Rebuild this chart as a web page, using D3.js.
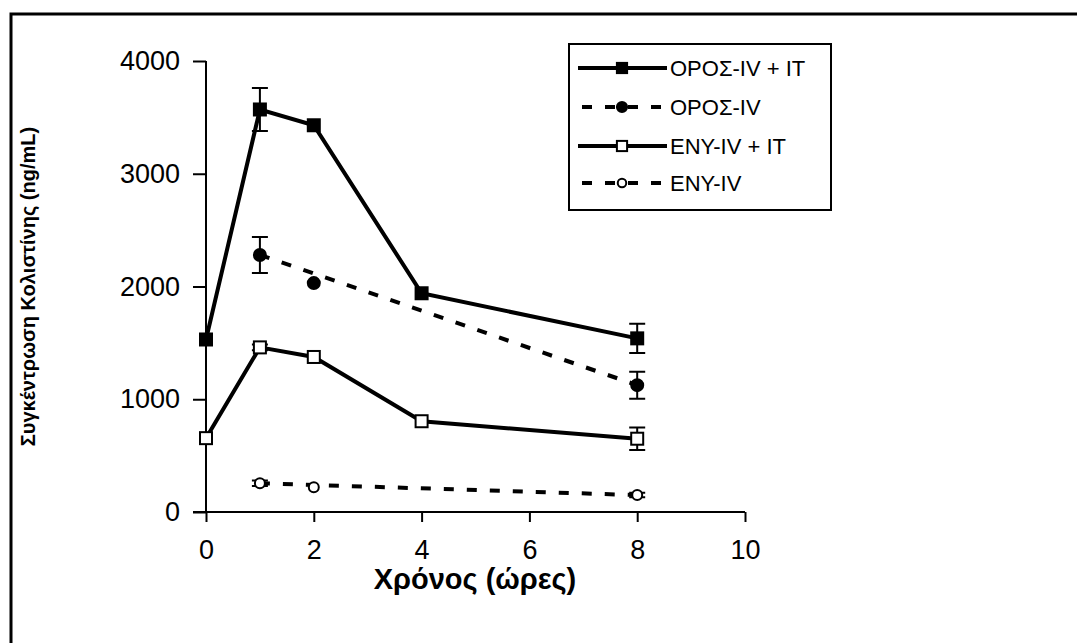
<!DOCTYPE html>
<html>
<head>
<meta charset="utf-8">
<script src="https://cdn.jsdelivr.net/npm/d3@7"></script>
<style>
  html, body { margin: 0; padding: 0; background: #fff; }
  svg text { font-family: "Liberation Sans", Arial, sans-serif; fill: #000; }
</style>
</head>
<body>
<svg id="chart" width="1077" height="643"></svg>
<script>
// Colistin concentration over time (hours), mean ± error
const xTicks = [0, 2, 4, 6, 8, 10];
const yTicks = [0, 1000, 2000, 3000, 4000];

const serumIvIt = [
  { t: 0, v: 1530, e: 0 },
  { t: 1, v: 3570, e: 190 },
  { t: 2, v: 3430, e: 0 },
  { t: 4, v: 1940, e: 0 },
  { t: 8, v: 1540, e: 130 }
];
const serumIv = [
  { t: 1, v: 2280, e: 160 },
  { t: 2, v: 2030, e: 0 },
  { t: 8, v: 1125, e: 120 }
];
const elfIvIt = [
  { t: 0, v: 655, e: 0 },
  { t: 1, v: 1460, e: 25 },
  { t: 2, v: 1375, e: 0 },
  { t: 4, v: 805, e: 0 },
  { t: 8, v: 650, e: 100 }
];
const elfIv = [
  { t: 1, v: 255, e: 25 },
  { t: 2, v: 220, e: 0 },
  { t: 8, v: 150, e: 20 }
];

const seriesNames = ["ΟΡΟΣ-IV + IT", "ΟΡΟΣ-IV", "ΕΝΥ-IV + IT", "ΕΝΥ-IV"];

const series = [
  { name: seriesNames[0], data: serumIvIt, dashed: false, marker: "square", filled: true, trend: false },
  { name: seriesNames[1], data: serumIv, dashed: true, marker: "circle", filled: true, trend: true },
  { name: seriesNames[2], data: elfIvIt, dashed: false, marker: "square", filled: false, trend: false },
  { name: seriesNames[3], data: elfIv, dashed: true, marker: "circle", filled: false, trend: true }
];

const svg = d3.select("#chart");

// outer frame
svg.append("rect")
  .attr("x", 11).attr("y", 14)
  .attr("width", 1100).attr("height", 700)
  .attr("fill", "none").attr("stroke", "#000").attr("stroke-width", 3);

const x = d3.scaleLinear().domain([0, 10]).range([206, 745]);
const y = d3.scaleLinear().domain([0, 4000]).range([512, 61]);

const tickFont = 27;

// y axis
const yAxis = svg.append("g").attr("transform", `translate(${x(0)},0)`)
  .call(d3.axisLeft(y).tickValues(yTicks).tickFormat(d3.format("d")).tickSize(13).tickPadding(13));
yAxis.select(".domain").attr("stroke-width", 2).attr("d", `M0,${y(4000)}V${y(0)}`);
yAxis.selectAll(".tick line").attr("stroke-width", 2);
yAxis.selectAll(".tick text").attr("font-size", tickFont).attr("font-family", "Liberation Sans, Arial, sans-serif").attr("fill", "#000");

// x axis
const xAxis = svg.append("g").attr("transform", `translate(0,${y(0)})`)
  .call(d3.axisBottom(x).tickValues(xTicks).tickFormat(d3.format("d")).tickSize(10).tickPadding(18));
xAxis.select(".domain").attr("stroke-width", 2).attr("d", `M193,0H${x(10)}`);
xAxis.selectAll(".tick line").attr("stroke-width", 2);
xAxis.selectAll(".tick text").attr("font-size", tickFont).attr("font-family", "Liberation Sans, Arial, sans-serif").attr("fill", "#000");

// axis titles
svg.append("text")
  .attr("x", 475).attr("y", 589)
  .attr("text-anchor", "middle")
  .attr("font-size", 29).attr("font-weight", "bold")
  .text("Χρόνος (ώρες)");
svg.append("text")
  .attr("transform", `translate(35,${y(2000)}) rotate(-90)`)
  .attr("text-anchor", "middle")
  .attr("font-size", 20).attr("font-weight", "bold")
  .text("Συγκέντρωση Κολιστίνης (ng/mL)");

const line = d3.line().x(d => x(d.t)).y(d => y(d.v));

function drawMarker(g, kind, filled, cx, cy, scale = 1) {
  if (kind === "square") {
    const h = 6 * scale;
    g.append("rect")
      .attr("x", cx - h).attr("y", cy - h).attr("width", 2 * h).attr("height", 2 * h)
      .attr("fill", filled ? "#000" : "#fff").attr("stroke", "#000").attr("stroke-width", 2);
  } else {
    g.append("circle")
      .attr("cx", cx).attr("cy", cy).attr("r", (filled ? 6 : 5) * scale)
      .attr("fill", filled ? "#000" : "#fff").attr("stroke", "#000").attr("stroke-width", 2);
  }
}

series.forEach(s => {
  const g = svg.append("g");
  // dashed series are drawn as a straight trend from first to last sample
  const pathData = s.trend ? [s.data[0], s.data[s.data.length - 1]] : s.data;
  g.append("path")
    .attr("d", line(pathData))
    .attr("fill", "none").attr("stroke", "#000")
    .attr("stroke-width", 4)
    .attr("stroke-dasharray", s.dashed ? "10,13" : null);
  // error bars
  s.data.filter(d => d.e > 0).forEach(d => {
    const cx = x(d.t);
    g.append("path")
      .attr("d", `M${cx},${y(d.v + d.e)}V${y(d.v - d.e)}M${cx - 8},${y(d.v + d.e)}H${cx + 8}M${cx - 8},${y(d.v - d.e)}H${cx + 8}`)
      .attr("stroke", "#000").attr("stroke-width", 2).attr("fill", "none");
  });
  s.data.forEach(d => drawMarker(g, s.marker, s.filled, x(d.t), y(d.v)));
});

// legend
const legend = svg.append("g");
legend.append("rect")
  .attr("x", 569).attr("y", 44).attr("width", 262).attr("height", 166)
  .attr("fill", "#fff").attr("stroke", "#000").attr("stroke-width", 2);
const rowY = [68, 107, 146, 183];
series.forEach((s, i) => {
  const ry = rowY[i];
  legend.append("path")
    .attr("d", `M578,${ry}H667`)
    .attr("stroke", "#000").attr("stroke-width", 4)
    .attr("stroke-dasharray", s.dashed ? "10,13" : null)
    .attr("stroke-dashoffset", s.dashed ? -4 : null);
  drawMarker(legend, s.marker, s.filled, 622, ry, 0.85);
  legend.append("text")
    .attr("x", 670).attr("y", ry).attr("dy", "0.36em")
    .attr("font-size", 22)
    .text(s.name);
});
</script>
</body>
</html>
